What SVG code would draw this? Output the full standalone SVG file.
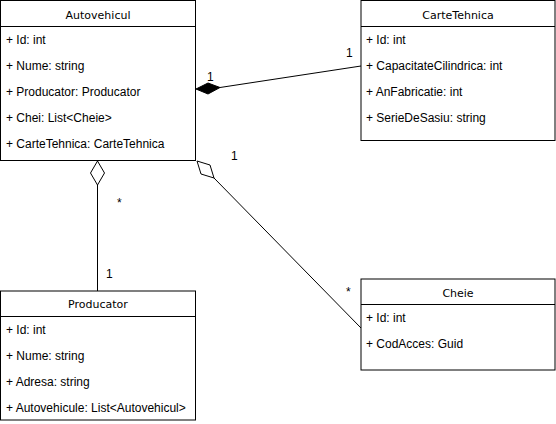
<svg xmlns="http://www.w3.org/2000/svg" width="556" height="424" viewBox="0 0 556 424">
<style>
.box{fill:#fff;stroke:#000;stroke-width:1}
.sep{stroke:#000;stroke-width:1}
.title{font-family:"DejaVu Sans",Verdana,sans-serif;font-size:11px;text-anchor:middle;fill:#000}
.attr{font-family:"Liberation Sans",Arial,sans-serif;font-size:12px;fill:#000}
.lbl{font-family:"Liberation Sans",Arial,sans-serif;font-size:12px;fill:#000}
.conn{stroke:#000;stroke-width:1;fill:none}
</style>
<rect width="556" height="424" fill="#fff"/>
<g id="connectors">
<line class="conn" x1="220" y1="87.5" x2="361" y2="66"/>
<polygon points="196,89 208,83 220,87.5 208,94" fill="#000" stroke="#000"/>
<text class="lbl" x="207" y="81">1</text>
<text class="lbl" x="346" y="57">1</text>
<line class="conn" x1="97.5" y1="185" x2="97.5" y2="291"/>
<polygon points="97.5,161 104.5,173 97.5,185 90.5,173" fill="#fff" stroke="#000"/>
<text class="lbl" x="117" y="207">*</text>
<text class="lbl" x="106" y="278">1</text>
<line class="conn" x1="214" y1="178" x2="361" y2="328"/>
<polygon points="197,161 210,165 214,178 201,174" fill="#fff" stroke="#000"/>
<text class="lbl" x="231" y="160">1</text>
<text class="lbl" x="346" y="296">*</text>
</g>
<g id="Autovehicul">
<rect class="box" x="0.5" y="0.5" width="195" height="160"/>
<line class="sep" x1="0.5" y1="26.5" x2="195.5" y2="26.5"/>
<text class="title" x="98" y="19">Autovehicul</text>
<text class="attr" x="6" y="44">+ Id: int</text>
<text class="attr" x="6" y="70">+ Nume: string</text>
<text class="attr" x="6" y="96">+ Producator: Producator</text>
<text class="attr" x="6" y="122">+ Chei: List&lt;Cheie&gt;</text>
<text class="attr" x="6" y="148">+ CarteTehnica: CarteTehnica</text>
</g>
<g id="CarteTehnica">
<rect class="box" x="361" y="0.5" width="194" height="140"/>
<line class="sep" x1="361" y1="26.5" x2="555" y2="26.5"/>
<text class="title" x="458" y="19">CarteTehnica</text>
<text class="attr" x="366" y="44">+ Id: int</text>
<text class="attr" x="366" y="70">+ CapacitateCilindrica: int</text>
<text class="attr" x="366" y="96">+ AnFabricatie: int</text>
<text class="attr" x="366" y="122">+ SerieDeSasiu: string</text>
</g>
<g id="Producator">
<rect class="box" x="0.5" y="291" width="195" height="129"/>
<line class="sep" x1="0.5" y1="316.5" x2="195.5" y2="316.5"/>
<text class="title" x="98" y="308">Producator</text>
<text class="attr" x="6" y="334">+ Id: int</text>
<text class="attr" x="6" y="360">+ Nume: string</text>
<text class="attr" x="6" y="386">+ Adresa: string</text>
<text class="attr" x="6" y="412">+ Autovehicule: List&lt;Autovehicul&gt;</text>
</g>
<g id="Cheie">
<rect class="box" x="361" y="279" width="194" height="91"/>
<line class="sep" x1="361" y1="304.5" x2="555" y2="304.5"/>
<text class="title" x="458" y="297">Cheie</text>
<text class="attr" x="366" y="322">+ Id: int</text>
<text class="attr" x="366" y="348">+ CodAcces: Guid</text>
</g>
</svg>
